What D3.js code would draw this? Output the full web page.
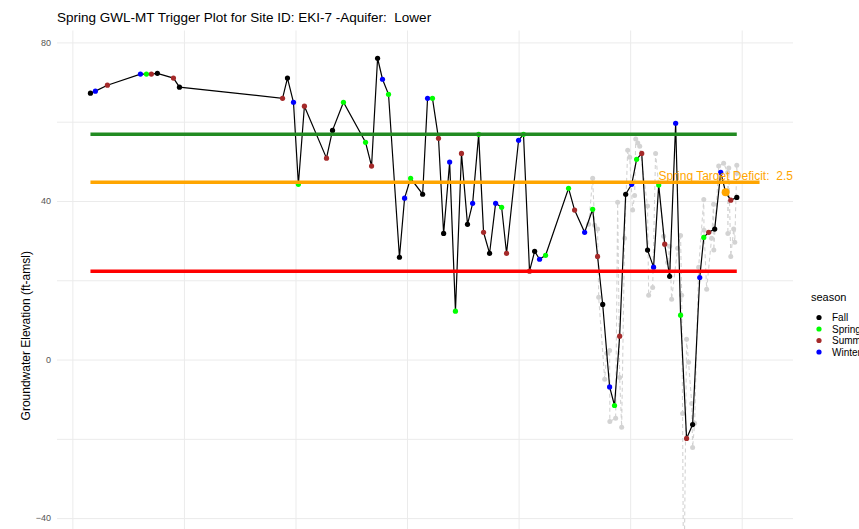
<!DOCTYPE html>
<html><head><meta charset="utf-8">
<script src="https://cdn.jsdelivr.net/npm/d3@7"></script>
<style>
body{margin:0;background:#fff}
svg{display:block;font-family:"Liberation Sans",Arial,sans-serif}
</style>
</head><body>
<svg id="chart" width="859" height="529"></svg>
<script>
// ---- data (decimal year, groundwater elevation ft-amsl) ----
const years = [1990.81,1991.03,1991.57,1993.05,1993.32,1993.54,1993.81,1994.53,1994.80,
  1999.42,1999.64,1999.91,2000.13,2000.40,2001.39,2001.66,2002.15,2003.14,2003.41,2003.68,2003.90,
  2004.17,2004.66,2004.89,2005.16,2005.70,2005.92,2006.14,2006.41,2006.64,2006.91,2007.17,2007.44,
  2007.71,2007.94,2008.21,2008.43,2008.70,2008.97,2009.24,2009.46,2010.00,2010.22,2010.49,2010.72,
  2010.94,2011.21,2012.24,2012.51,2012.96,2013.32,2013.54,2013.77,2014.08,2014.30,2014.53,2014.80,
  2015.07,2015.29,2015.52,2015.78,2016.05,2016.28,2016.55,2016.77,2017.04,2017.26,2017.53,2017.80,
  2018.12,2018.30,2018.52,2018.79,2019.06,2019.28,2019.51,2019.78];
const levels = [67.2,67.7,69.2,72.0,72.0,72.0,72.2,71.0,68.7,
  65.9,71.0,64.9,44.2,63.9,50.8,57.8,64.9,54.8,48.8,76.0,70.7,
  66.9,25.8,40.7,45.7,41.7,65.9,65.9,55.8,31.8,49.8,12.2,52.0,
  34.1,39.4,56.8,32.1,26.8,39.4,38.4,26.8,55.3,56.8,22.3,27.3,
  25.3,26.3,43.2,37.7,32.1,37.9,26.0,13.9,-6.9,-11.6,5.9,41.7,
  44.2,50.5,52.0,27.6,23.3,44.0,29.1,21.0,59.6,11.2,-19.9,-16.4,
  20.7,30.8,32.1,32.9,47.2,42.2,40.2,40.9];
const seasons = ["Fall","Winter","Summer","Winter","Spring","Summer","Fall","Summer","Fall",
  "Summer","Fall","Winter","Spring","Summer","Summer","Fall","Spring","Spring","Summer","Fall","Winter",
  "Spring","Fall","Winter","Spring","Fall","Winter","Spring","Summer","Fall","Winter","Spring","Summer",
  "Fall","Winter","Spring","Summer","Fall","Winter","Spring","Summer","Winter","Spring","Summer","Fall",
  "Winter","Spring","Spring","Summer","Winter","Spring","Summer","Fall","Winter","Spring","Summer","Fall",
  "Winter","Spring","Summer","Fall","Winter","Spring","Summer","Fall","Winter","Spring","Summer","Fall",
  "Winter","Spring","Summer","Fall","Winter","Spring","Summer","Fall"];

// all measurements (grey, dashed)
const grayYears = [2013.14,2013.32,2013.41,2013.54,2013.59,2013.86,2013.95,2014.08,2014.09,2014.35,
  2014.44,2014.53,2014.62,2014.75,2014.89,2014.98,2015.11,2015.20,2015.25,2015.34,2015.43,2015.78,
  2015.83,2016.01,2016.14,2016.50,2016.68,2016.77,2016.86,2017.13,2017.26,2017.31,2017.35,2017.40,
  2017.53,2017.62,2017.76,2017.80,2017.89,2018.07,2018.30,2018.31,2018.43,2018.65,2018.74,2018.75,
  2018.97,2019.19,2019.37,2019.38,2019.42,2019.51,2019.64,2019.69,2019.78,2019.79];
const grayLevels = [34.1,45.7,33.9,32.9,15.7,-5.0,1.6,2.3,-15.6,-14.8,
  39.7,-4.5,-17.1,30.6,52.8,51.0,37.7,41.4,55.6,54.6,53.8,38.7,
  16.2,18.2,52.0,31.1,24.5,28.6,15.2,28.1,31.3,16.2,-13.6,-64.0,
  5.1,-0.7,-11.1,-22.2,-16.1,23.3,40.4,32.6,17.7,30.6,39.2,27.6,
  48.8,49.5,47.2,31.8,48.3,26.0,32.9,29.6,49.0,47.0];

// reference levels
const refNames  = ["Measurable Objective","Spring Target","Minimum Threshold"];
const refLevels = [56.8, 44.7, 22.3];
const refStart  = [1990.81, 1990.81, 1990.81];
const refEnd    = [2019.78, 2020.80, 2019.78];

const targetYear = 2019.28, targetLevel = 42.2;
const targetLabel = "Spring Target Deficit:  2.5";

const seasonNames = ["Fall","Spring","Summer","Winter"];
const yTicks = [-40, 0, 40, 80];
const yGridVals = [-40,-20,0,20,40,60,80];
const xGridVals = [1990,1995,2000,2005,2010,2015,2020];

const titleText = "Spring GWL-MT Trigger Plot for Site ID: EKI-7 -Aquifer:  Lower";
const yTitle = "Groundwater Elevation (ft-amsl)";

// ---- styles ----
const seasonColors = {Fall:"#000000", Spring:"#00FF00", Summer:"#A52A2A", Winter:"#0000FF"};
const refColors = ["#228B22","#FFA500","#FF0000"];

// ---- layout ----
const P = {left:57, right:793, top:30.5, bottom:641};
const svg = d3.select("#chart");

const allX = years.concat(grayYears, refEnd);
const xMin = d3.min(allX), xMax = d3.max(allX), xPad = (xMax - xMin) * 0.05;
const x = d3.scaleLinear().domain([xMin - xPad, xMax + xPad]).range([P.left, P.right]);
const allY = levels.concat(grayLevels, refLevels);
const yMin = d3.min(allY), yMax = d3.max(allY), yPad = (yMax - yMin) * 0.05;
const y = d3.scaleLinear().domain([yMin - yPad, yMax + yPad]).range([P.bottom, P.top]);

// grid
const grid = svg.append("g");
grid.append("g").attr("transform", `translate(0,${P.bottom})`)
  .call(d3.axisBottom(x).tickValues(xGridVals).tickSize(-(P.bottom - P.top)).tickFormat(""))
  .call(g => g.select(".domain").remove())
  .call(g => g.selectAll("line").attr("stroke", "#ebebeb").attr("stroke-width", 1));
grid.append("g").attr("transform", `translate(${P.left},0)`)
  .call(d3.axisLeft(y).tickValues(yGridVals).tickSize(-(P.right - P.left)).tickFormat(""))
  .call(g => g.select(".domain").remove())
  .call(g => g.selectAll("line").attr("stroke", "#ebebeb").attr("stroke-width", 1));

// y axis labels
svg.append("g").attr("transform", `translate(${P.left},0)`)
  .call(d3.axisLeft(y).tickValues(yTicks).tickSize(0).tickPadding(6).tickFormat(d3.format("d")))
  .call(g => g.select(".domain").remove())
  .call(g => g.selectAll("text").attr("fill", "#555").attr("font-size", "9px")
      .attr("font-family", '"Liberation Sans",Arial,sans-serif'));

// grey dashed all-measurement series
const gray = grayYears.map((d, i) => ({x: d, y: grayLevels[i]}));
svg.append("path").datum(gray)
  .attr("d", d3.line().x(d => x(d.x)).y(d => y(d.y)))
  .attr("fill", "none").attr("stroke", "#d3d3d3").attr("stroke-width", 1.1)
  .attr("stroke-dasharray", "4,3");
svg.append("g").selectAll("circle").data(gray).join("circle")
  .attr("cx", d => x(d.x)).attr("cy", d => y(d.y)).attr("r", 2.5).attr("fill", "#d3d3d3");

// main seasonal series
const main = years.map((d, i) => ({x: d, y: levels[i], s: seasons[i]}));
svg.append("path").datum(main)
  .attr("d", d3.line().x(d => x(d.x)).y(d => y(d.y)))
  .attr("fill", "none").attr("stroke", "#000").attr("stroke-width", 1.2);
svg.append("g").selectAll("circle").data(main).join("circle")
  .attr("cx", d => x(d.x)).attr("cy", d => y(d.y)).attr("r", 2.6)
  .attr("fill", d => seasonColors[d.s]);

// reference lines
svg.append("g").selectAll("line").data(refLevels).join("line")
  .attr("x1", (d, i) => x(refStart[i])).attr("x2", (d, i) => x(refEnd[i]))
  .attr("y1", d => y(d)).attr("y2", d => y(d))
  .attr("stroke", (d, i) => refColors[i]).attr("stroke-width", 3.5);

// target point and label
svg.append("circle").attr("cx", x(targetYear)).attr("cy", y(targetLevel)).attr("r", 4)
  .attr("fill", "#FFA500");
svg.append("text").attr("x", x(targetYear)).attr("y", y(refLevels[1]) - 2)
  .attr("text-anchor", "middle").attr("font-size", "12px").attr("fill", "#FFA500")
  .style("white-space", "pre").text(targetLabel);

// title
svg.append("text").attr("x", 57).attr("y", 22).attr("font-size", "13.5px").attr("fill", "#000")
  .style("white-space", "pre").text(titleText);

// y title
svg.append("text").attr("transform", `translate(29.5,${(P.top + P.bottom) / 2}) rotate(-90)`)
  .attr("text-anchor", "middle").attr("font-size", "12px").attr("fill", "#000").text(yTitle);

// legend
const lg = svg.append("g").attr("transform", "translate(811,0)");
lg.append("text").attr("x", 0).attr("y", 301).attr("font-size", "11px").attr("fill", "#000").text("season");
const items = lg.selectAll("g.item").data(seasonNames).join("g").attr("class", "item")
  .attr("transform", (d, i) => `translate(0,${317.5 + i * 11.5})`);
items.append("circle").attr("cx", 8).attr("cy", 0).attr("r", 2.6).attr("fill", d => seasonColors[d]);
items.append("text").attr("x", 21).attr("y", 3.5).attr("font-size", "10px").attr("fill", "#000").text(d => d);
</script>
</body></html>
